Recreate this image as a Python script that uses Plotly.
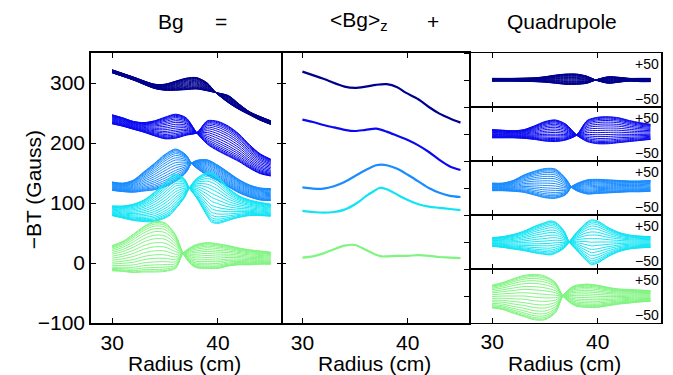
import plotly.graph_objects as go

# ---------------- data ----------------
family_colors = ["#00008c", "#0a0af0", "#1a8cff", "#10e4f4", "#80f480"]

r_navy = [30, 32, 34, 35, 36, 37, 38, 39, 39.8, 41, 42, 43, 44, 45]
mean_navy = [319, 307, 294, 292, 294, 297, 298, 293, 284, 273, 260, 249, 241, 234]
qa_navy = [3, 3, 4, 6, 9, 11, 11, 7, 0, -6, -4, -2, -3, -3]
qb_navy = [-2, -2, -3, -4, -6, -8, -8, -6, 0, 6, 5, 3, 3, 3]

r_blue = [30, 31, 32, 33, 34, 35, 36, 37, 38, 39, 40, 41, 42, 43, 44, 45]
mean_blue = [239, 235, 230, 226, 222, 220, 222, 224, 219, 212, 205, 196, 185, 172, 161, 155]
qa_blue = [8, 7, 6, 8, 15, 23, 26, 18, -2, -14, -18, -18, -16, -14, -12, -10]
qb_blue = [-7, -7, -7, -8, -10, -13, -14, -11, -2, 25, 31, 32, 30, 25, 21, 18]

r_dodger = [30, 31, 32, 33, 34, 35, 36, 37, 37.5, 38, 39, 40, 41, 42, 43, 44, 45]
mean_dodger = [126, 124, 124, 128, 135, 145, 155, 163, 164, 163, 157, 147, 136, 125, 117, 112, 110]
qa_dodger = [9, 9, 14, 24, 31, 36, 35, 17, 2, -5, -11, -10, -9, -8, -7, -7, -6]
qb_dodger = [-5, -5, -6, -8, -13, -18, -19, -12, 2, 8, 15, 16, 15, 14, 13, 13, 14]

r_cyan = [30, 31, 32, 33, 34, 35, 35.5, 36, 36.8, 37.3, 38, 39, 39.4, 40, 41, 42, 43, 44, 45]
mean_cyan = [87, 85, 84, 85, 89, 98, 104, 111, 120, 125, 123, 114, 110, 105, 98, 94, 92, 90, 88]
qa_cyan = [8, 10, 14, 20, 29, 36, 39, 37, 21, 0, -15, -36, -42, -39, -27, -18, -13, -11, -10]
qb_cyan = [-8, -10, -13, -16, -20, -23, -24, -21, -12, 0, 18, 37, 41, 39, 27, 18, 13, 11, 10]

r_green = [30, 31, 32, 33, 34, 35, 36, 36.7, 37.5, 38, 39, 40, 41, 42, 43, 44, 45]
mean_green = [9, 11, 16, 23, 29, 30, 22, 16, 11, 11, 12, 12, 13, 12, 10, 9, 8]
qa_green = [20, 25, 32, 38, 40, 37, 25, 0, -14, -19, -21, -21, -18, -15, -13, -11, -10]
qb_green = [-22, -25, -32, -38, -44, -44, -31, 0, 16, 20, 22, 20, 16, 13, 12, 11, 10]

# fraction of the way from the first z-slice quadrupole (qa) to the last (qb)
slice_mix = [0.0, 0.02, 0.05, 0.09, 0.14, 0.2, 0.27, 0.34, 0.42, 0.5,
             0.58, 0.66, 0.73, 0.8, 0.86, 0.91, 0.95, 0.98, 1.0]

x_ticks = [30, 40]
y_ticks = [-100, 0, 100, 200, 300]
quad_ticks = [-50, 0, 50]

families = [
    (r_navy, mean_navy, qa_navy, qb_navy),
    (r_blue, mean_blue, qa_blue, qb_blue),
    (r_dodger, mean_dodger, qa_dodger, qb_dodger),
    (r_cyan, mean_cyan, qa_cyan, qb_cyan),
    (r_green, mean_green, qa_green, qb_green),
]

FONT = "Liberation Sans, Arial, Helvetica, sans-serif"
fig = go.Figure()

for i, (r, m, qa, qb) in enumerate(families):
    col = family_colors[i]
    yq = "y%d" % (i + 3)
    xq = "x%d" % (i + 3)
    for w in slice_mix:
        quad = [(1 - w) * a + w * b for a, b in zip(qa, qb)]
        total = [mm + q for mm, q in zip(m, quad)]
        fig.add_trace(go.Scatter(x=r, y=total, mode="lines", xaxis="x", yaxis="y",
                                 line=dict(color=col, width=1, shape="spline", smoothing=0.8),
                                 showlegend=False, hoverinfo="skip"))
        fig.add_trace(go.Scatter(x=r, y=quad, mode="lines", xaxis=xq, yaxis=yq,
                                 line=dict(color=col, width=1, shape="spline", smoothing=0.8),
                                 showlegend=False, hoverinfo="skip"))
    fig.add_trace(go.Scatter(x=r, y=m, mode="lines", xaxis="x2", yaxis="y2",
                             line=dict(color=col, width=2.2, shape="spline", smoothing=0.8),
                             showlegend=False, hoverinfo="skip"))

axis_common = dict(showline=True, linecolor="black", linewidth=1.6, showgrid=False,
                   zeroline=False, ticks="inside", ticklen=5, tickcolor="black", tickwidth=1,
                   tickfont=dict(family=FONT, size=21, color="black"))

layout = dict(
    width=673, height=375,
    margin=dict(l=91, r=10, t=53, b=52),
    paper_bgcolor="white", plot_bgcolor="white",
    font=dict(family=FONT, size=21, color="black"),
    showlegend=False,
)
d1, d2 = 0.3339, 0.6667
layout["xaxis"] = dict(axis_common, domain=[0, d1], range=[28, 46], tickvals=x_ticks,
                       anchor="y", mirror="ticks")
layout["yaxis"] = dict(axis_common, domain=[0, 1], range=[-100, 350], tickvals=y_ticks,
                       anchor="x", mirror="ticks")
layout["xaxis2"] = dict(axis_common, domain=[d1, d2], range=[28, 46], tickvals=x_ticks,
                        anchor="y2", mirror="ticks")
layout["yaxis2"] = dict(axis_common, domain=[0, 1], range=[-100, 350], tickvals=y_ticks,
                        anchor="x2", showline=False, showticklabels=False)
sub_bounds = [1.0, 0.8, 0.6, 0.4, 0.2, 0.0]
for k in range(5):
    layout["xaxis%d" % (k + 3)] = dict(axis_common, domain=[d2, 1], range=[28, 46],
                                       tickvals=x_ticks, anchor="y%d" % (k + 3), mirror="ticks",
                                       linewidth=1.1, showticklabels=(k == 4))
    layout["yaxis%d" % (k + 3)] = dict(axis_common, domain=[sub_bounds[k + 1], sub_bounds[k]],
                                       range=[-50, 50], tickvals=quad_ticks,
                                       anchor="x%d" % (k + 3), mirror=True,
                                       ticks="outside", showticklabels=False)

fig.update_layout(**layout)

ann = []
tfont = dict(family=FONT, size=21, color="black")
for txt, xp in [("Bg", 171), ("=", 221), ("&lt;Bg&gt;<sub>z</sub>", 360), ("+", 434), ("Quadrupole", 564)]:
    ann.append(dict(text=txt, x=(xp - 91) / 572, y=1 + (53 - 21) / 270, xref="paper", yref="paper",
                    showarrow=False, xanchor="center", yanchor="middle", font=tfont))
for xp in [185, 375, 566]:
    ann.append(dict(text="Radius (cm)", x=(xp - 91) / 572, y=-(363 - 323) / 270, xref="paper",
                    yref="paper", showarrow=False, xanchor="center", yanchor="middle", font=tfont))
ann.append(dict(text="\u2212BT (Gauss)", x=(33 - 91) / 572, y=(323 - 190) / 270, xref="paper",
                yref="paper", showarrow=False, textangle=-90, xanchor="center", yanchor="middle",
                font=tfont))
sfont = dict(family=FONT, size=14, color="black")
for k in range(5):
    ya = "y%d" % (k + 3)
    ann.append(dict(text="+50", x=1, y=50, xref="paper", yref=ya, showarrow=False,
                    xanchor="right", yanchor="top", yshift=-1, font=sfont))
    ann.append(dict(text="\u221250", x=1, y=-50, xref="paper", yref=ya, showarrow=False,
                    xanchor="right", yanchor="bottom", yshift=-2, font=sfont))
fig.update_layout(annotations=ann)

fig.write_html("out.html", post_script="document.body.style.margin='0px';",
               config={"displayModeBar": False})
